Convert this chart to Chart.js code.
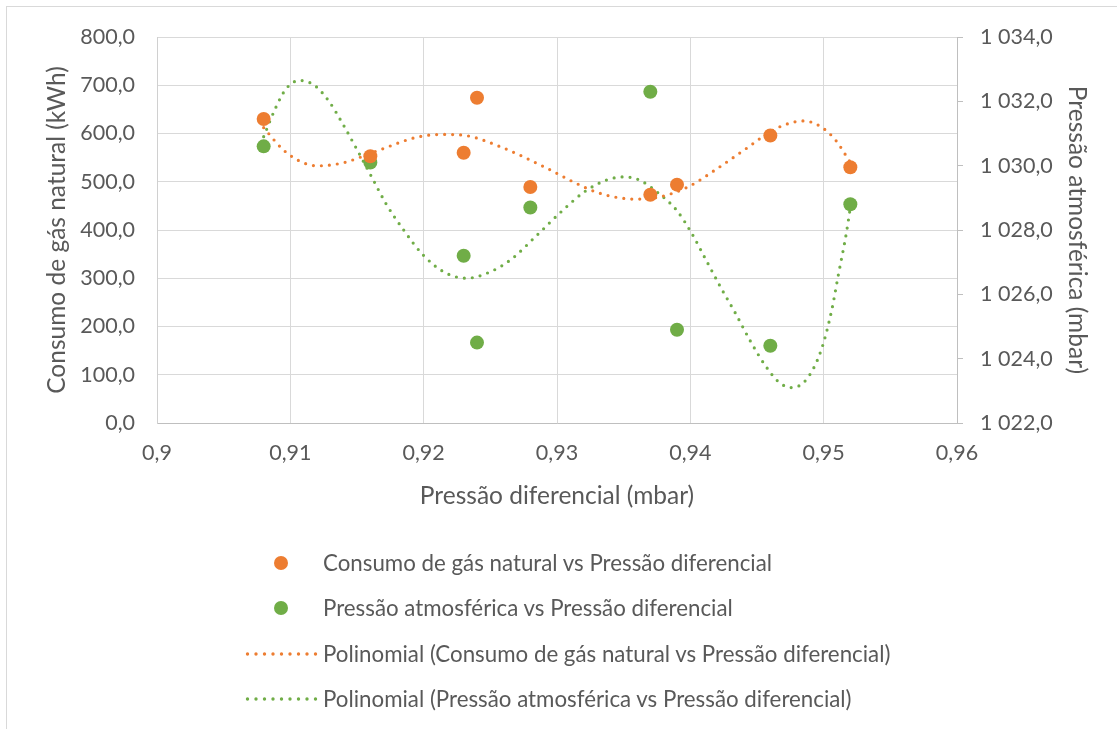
<!DOCTYPE html>
<html>
<head>
<meta charset="utf-8">
<script src="https://cdn.jsdelivr.net/npm/chart.js@4.4.1/dist/chart.umd.min.js"></script>
<style>
  body { margin: 0; background: #fff; }
  #wrap { position: relative; width: 1117px; height: 729px; overflow: hidden; font-family: Lato, "Open Sans", sans-serif; }
  #frame { position: absolute; left: 6px; top: 6px; width: 1130px; height: 740px; border: 1px solid #d9d9d9; box-sizing: border-box; }
  #myChart { position: absolute; left: 0; top: 0; }
  .lg { position: absolute; left: 0; width: 1117px; height: 30px; color: #595959; font-size: 22.3px; line-height: 30px; }
  .lg .txt { position: absolute; left: 323px; top: 0; white-space: nowrap; }
  .lg .dot { position: absolute; left: 274px; top: 8px; width: 14px; height: 14px; border-radius: 50%; }
  .lg svg { position: absolute; left: 244px; top: 12px; }
</style>
</head>
<body>
<div id="wrap">
  <div id="frame"></div>
  <canvas id="myChart" width="1117" height="729"></canvas>
  <div class="lg" style="top:548px"><span class="dot" style="background:#ED7D31"></span><span class="txt">Consumo de gás natural vs Pressão diferencial</span></div>
  <div class="lg" style="top:593px"><span class="dot" style="background:#70AD47"></span><span class="txt">Pressão atmosférica vs Pressão diferencial</span></div>
  <div class="lg" style="top:639px"><svg width="74" height="6"><line x1="3.5" y1="3" x2="72" y2="3" stroke="#ED7D31" stroke-width="3.4" stroke-linecap="round" stroke-dasharray="0 8.5"/></svg><span class="txt">Polinomial (Consumo de gás natural vs Pressão diferencial)</span></div>
  <div class="lg" style="top:684px"><svg width="74" height="6"><line x1="3.5" y1="3" x2="72" y2="3" stroke="#70AD47" stroke-width="3.4" stroke-linecap="round" stroke-dasharray="0 8.5"/></svg><span class="txt">Polinomial (Pressão atmosférica vs Pressão diferencial)</span></div>
</div>
<script>
// pressao diferencial (mbar) - x of every point
var pressDif = [0.908, 0.916, 0.923, 0.924, 0.928, 0.937, 0.939, 0.946, 0.952];
// consumo de gas natural (kWh), left axis
var consumo = [630, 553, 560, 674, 489, 473, 494, 596, 530];
// pressao atmosferica (mbar), right axis
var pressAtm = [1030.6, 1030.1, 1027.2, 1024.5, 1028.7, 1032.3, 1024.9, 1024.4, 1028.8];

// trendlines
var trendConsX = [0.908, 0.9094, 0.9103, 0.9111, 0.9120, 0.9131, 0.9142, 0.9166, 0.9196, 0.9215, 0.9231, 0.9258, 0.9291, 0.9312, 0.9329, 0.9346, 0.9359, 0.9376, 0.9398, 0.9420, 0.9442, 0.9464, 0.9485, 0.9498, 0.9509, 0.952];
var trendConsY = [612, 568, 549, 538, 533, 535, 541, 565, 593, 598, 596, 572, 530, 500, 479, 467, 464, 468, 489, 527, 569, 610, 626, 614, 586, 540];
var trendAtmX = [0.908, 0.9089, 0.9097, 0.9107, 0.9118, 0.9129, 0.9140, 0.9150, 0.9161, 0.9172, 0.9185, 0.9199, 0.9215, 0.9232, 0.9250, 0.9266, 0.9284, 0.9304, 0.9321, 0.9337, 0.9350, 0.9362, 0.9376, 0.9390, 0.9401, 0.9412, 0.9423, 0.9434, 0.9445, 0.9456, 0.9467, 0.9476, 0.9487, 0.9498, 0.9506, 0.9511, 0.9517, 0.952];
var trendAtmY = [1030.9, 1031.8, 1032.4, 1032.65, 1032.5, 1032.0, 1031.25, 1030.5, 1029.65, 1028.8, 1028.0, 1027.25, 1026.7, 1026.5, 1026.7, 1027.1, 1027.8, 1028.6, 1029.2, 1029.55, 1029.65, 1029.55, 1029.15, 1028.6, 1027.9, 1027.05, 1026.2, 1025.4, 1024.55, 1023.8, 1023.25, 1023.1, 1023.35, 1024.25, 1025.5, 1026.6, 1027.9, 1028.7];

function pairs(xs, ys) {
    return xs.map(function(x, i) { return {x: x, y: ys[i]}; });
}

var orange = '#ED7D31';
var green = '#70AD47';
var txtColor = '#595959';
var tickFont = {family: 'Lato', size: 21.5};
var titleFont = {family: 'Lato', size: 24.5};

var ctx = document.getElementById('myChart').getContext('2d');
var chart = new Chart(ctx, {
    type: 'scatter',
    data: {
        datasets: [{
            label: 'Consumo de gás natural vs Pressão diferencial',
            data: pairs(pressDif, consumo),
            backgroundColor: orange,
            borderWidth: 0,
            pointRadius: 7,
            yAxisID: 'y'
        }, {
            label: 'Pressão atmosférica vs Pressão diferencial',
            data: pairs(pressDif, pressAtm),
            backgroundColor: green,
            borderWidth: 0,
            pointRadius: 7,
            yAxisID: 'y2'
        }, {
            label: 'Polinomial (Consumo de gás natural vs Pressão diferencial)',
            data: pairs(trendConsX, trendConsY),
            showLine: true,
            pointRadius: 0,
            borderColor: orange,
            borderWidth: 3.2,
            borderDash: [0, 8],
            borderCapStyle: 'round',
            cubicInterpolationMode: 'monotone',
            yAxisID: 'y'
        }, {
            label: 'Polinomial (Pressão atmosférica vs Pressão diferencial)',
            data: pairs(trendAtmX, trendAtmY),
            showLine: true,
            pointRadius: 0,
            borderColor: green,
            borderWidth: 3.2,
            borderDash: [0, 8],
            borderCapStyle: 'round',
            cubicInterpolationMode: 'monotone',
            yAxisID: 'y2'
        }]
    },
    options: {
        responsive: false,
        animation: false,
        devicePixelRatio: 1,
        layout: { padding: {left: 42, right: 25, top: 37, bottom: 218} },
        plugins: {
            legend: { display: false },
            tooltip: { enabled: false }
        },
        scales: {
            x: {
                type: 'linear',
                min: 0.9,
                max: 0.96,
                afterFit: function(s) { s.height = 88; },
                ticks: {
                    stepSize: 0.01,
                    color: txtColor,
                    font: tickFont,
                    padding: 17,
                    maxRotation: 0,
                    callback: function(v) { return String(Number(v.toFixed(2))).replace('.', ','); }
                },
                grid: { color: '#d9d9d9', drawTicks: false },
                border: { color: '#bfbfbf' },
                title: { display: true, text: 'Pressão diferencial (mbar)', color: txtColor, font: titleFont, padding: 0 }
            },
            y: {
                position: 'left',
                min: 0,
                max: 800,
                afterFit: function(s) { s.width = 115; },
                ticks: {
                    stepSize: 100,
                    color: txtColor,
                    font: tickFont,
                    padding: 22,
                    callback: function(v) { return v.toFixed(1).replace('.', ','); }
                },
                grid: { color: '#d9d9d9', drawTicks: false },
                border: { color: '#d0d0d0' },
                title: { display: true, text: 'Consumo de gás natural (kWh)', color: txtColor, font: titleFont, padding: 0 }
            },
            y2: {
                position: 'right',
                min: 1022,
                max: 1034,
                afterFit: function(s) { s.width = 135; },
                ticks: {
                    stepSize: 2,
                    color: txtColor,
                    font: tickFont,
                    padding: 17,
                    callback: function(v) {
                        var s = v.toFixed(1);
                        return (s.charAt(0) + ' ' + s.slice(1)).replace('.', ',');
                    }
                },
                grid: { drawOnChartArea: false, drawTicks: true, tickLength: 6, color: '#bfbfbf' },
                border: { color: '#bfbfbf' },
                title: { display: true, text: 'Pressão atmosférica (mbar)', color: txtColor, font: titleFont, padding: 0 }
            }
        }
    }
});
</script>
</body>
</html>
